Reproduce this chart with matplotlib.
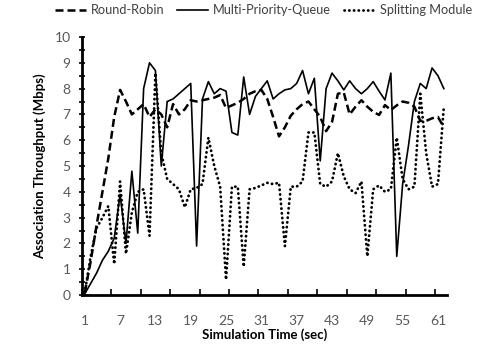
import numpy as np
import matplotlib
matplotlib.use("Agg")
import matplotlib.pyplot as plt
from matplotlib.ticker import FixedLocator, MultipleLocator

plt.rcParams['font.family'] = ['Lato', 'DejaVu Sans']

# simulation time (sec)
t = np.arange(1, 63)

# Round-Robin throughput (Mbps)
round_robin = [0.1, 1.3, 2.7, 4.0, 5.3, 6.9, 7.95, 7.5, 7.0, 7.2,
               7.4, 6.9, 7.2, 7.0, 6.5, 7.4, 7.0, 7.2, 7.55, 7.5,
               7.55, 7.6, 7.65, 7.75, 7.25, 7.35, 7.45, 7.6, 7.8, 7.9,
               7.95, 7.6, 6.9, 6.15, 6.5, 6.95, 7.2, 7.4, 7.5, 7.2,
               6.9, 6.35, 6.7, 7.8, 7.85, 7.0, 7.3, 7.55, 7.3, 7.1,
               6.98, 7.36, 7.17, 7.35, 7.5, 7.45, 7.3, 6.75, 6.75, 6.85,
               6.9, 6.5]

# Multi-Priority-Queue throughput (Mbps)
multi_queue = [0.05, 0.45, 0.85, 1.35, 1.7, 2.2, 3.9, 2.0, 4.8, 2.4,
               8.0, 9.0, 8.7, 5.0, 7.5, 7.6, 7.8, 8.0, 8.2, 1.9,
               7.6, 8.27, 7.8, 8.0, 7.9, 6.3, 6.2, 8.45, 7.0, 7.7,
               8.0, 8.3, 7.6, 7.8, 7.95, 8.0, 8.2, 8.7, 7.8, 8.4,
               5.2, 8.0, 8.6, 8.3, 7.95, 8.3, 8.0, 7.8, 8.0, 8.27,
               7.9, 7.56, 8.6, 1.5, 4.3, 5.8, 7.5, 8.2, 8.0, 8.8,
               8.5, 8.0]

# Splitting Module throughput (Mbps)
splitting = [0.1, 1.5, 2.6, 3.0, 3.45, 1.2, 4.4, 1.6, 3.2, 4.0,
             4.1, 2.3, 8.6, 5.5, 4.5, 4.3, 4.1, 3.4, 4.1, 4.15,
             4.3, 6.1, 5.0, 4.2, 0.6, 4.2, 4.2, 1.1, 4.1, 4.15,
             4.25, 4.35, 4.3, 4.35, 1.9, 4.2, 4.2, 4.4, 6.3, 6.3,
             4.3, 4.2, 4.4, 5.5, 4.6, 4.1, 3.95, 4.4, 1.5, 4.1,
             4.25, 4.0, 4.1, 6.1, 4.5, 4.1, 4.2, 7.8, 5.5, 4.2,
             4.3, 7.3]

xtick_labels = [1, 7, 13, 19, 25, 31, 37, 43, 49, 55, 61]

fig = plt.figure(figsize=(5.02, 3.59), dpi=100)
ax = fig.add_axes([0.163, 0.178, 0.727, 0.719])

l1, = ax.plot(t, round_robin, color='black', lw=1.8, ls=(0, (3.2, 1.6)),
              label='Round-Robin')
l2, = ax.plot(t, multi_queue, color='black', lw=1.2, ls='-',
              label='Multi-Priority-Queue')
l3, = ax.plot(t, splitting, color='black', lw=2.0, ls=(0, (0.1, 1.6)),
              dash_capstyle='round', label='Splitting Module')

ax.set_xlim(0.5, 62.5)
ax.set_ylim(0, 10)

ax.xaxis.set_major_locator(FixedLocator(xtick_labels))
ax.xaxis.set_minor_locator(FixedLocator(np.arange(0.5, 62, 5)))
ax.tick_params(axis='x', which='major', length=0, pad=14,
               labelsize=10, labelcolor='#595959')
ax.tick_params(axis='x', which='minor', direction='in', length=4, width=1.2)

ax.yaxis.set_major_locator(MultipleLocator(1))
ax.yaxis.set_minor_locator(MultipleLocator(0.5))
ax.tick_params(axis='y', which='both', direction='inout', length=4, width=1.2,
               labelsize=10, labelcolor='#595959', pad=6)

for s in ['top', 'right']:
    ax.spines[s].set_visible(False)
for s in ['left', 'bottom']:
    ax.spines[s].set_linewidth(2)

ax.set_xlabel('Simulation Time (sec)', fontsize=9.5, fontweight='bold',
              labelpad=1)
ax.set_ylabel('Association Throughput (Mbps)', fontsize=9.5,
              fontweight='bold', labelpad=6)

fig.legend(handles=[l1, l2, l3], loc='upper center', ncol=3,
           bbox_to_anchor=(0.525, 1.02), frameon=False, fontsize=9.2,
           handlelength=2.4, columnspacing=1.0, handletextpad=0.4,
           labelcolor='#404040')

fig.savefig('out.png', dpi=100)
